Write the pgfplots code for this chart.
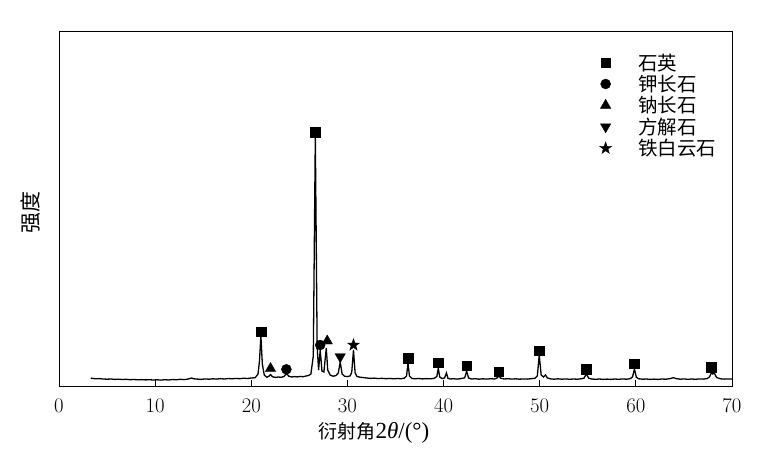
\documentclass[border=0pt]{standalone}
\usepackage{fontspec}
\setmainfont{Liberation Serif}
\newfontfamily\cjk{Noto Sans CJK SC}
\usepackage{pgfplots}
\pgfplotsset{compat=1.18}
\pgfdeclareplotmark{fstar}{%
  \pgfpathmoveto{\pgfpointpolar{90}{1.25\pgfplotmarksize}}%
  \pgfpathlineto{\pgfpointpolar{126}{0.5\pgfplotmarksize}}%
  \pgfpathlineto{\pgfpointpolar{162}{1.25\pgfplotmarksize}}%
  \pgfpathlineto{\pgfpointpolar{198}{0.5\pgfplotmarksize}}%
  \pgfpathlineto{\pgfpointpolar{234}{1.25\pgfplotmarksize}}%
  \pgfpathlineto{\pgfpointpolar{270}{0.5\pgfplotmarksize}}%
  \pgfpathlineto{\pgfpointpolar{306}{1.25\pgfplotmarksize}}%
  \pgfpathlineto{\pgfpointpolar{342}{0.5\pgfplotmarksize}}%
  \pgfpathlineto{\pgfpointpolar{18}{1.25\pgfplotmarksize}}%
  \pgfpathlineto{\pgfpointpolar{54}{0.5\pgfplotmarksize}}%
  \pgfpathclose
  \pgfusepathqfillstroke}
\begin{document}
\begin{tikzpicture}
\path[use as bounding box] (0,0) rectangle (783pt,456pt);
\begin{axis}[
  at={(59pt,70pt)}, anchor=south west,
  width=673pt, height=354pt, scale only axis,
  xmin=0, xmax=70, ymin=0, ymax=354,
  xtick={0,10,...,70}, ytick=\empty,
  xtick pos=bottom, tick align=inside, major tick length=6pt,
  axis line style={line width=1pt},
  tick style={line width=0.8pt, black},
  tick label style={font=\fontsize{22}{26}\selectfont},
  xticklabel style={yshift=-10pt},
  xlabel={{\fontsize{19}{24}\selectfont\cjk 衍射角}2\textit{θ}/(°)},
  xlabel style={at={(axis description cs:0.468,0)}, anchor=center, yshift=-47pt, font=\fontsize{23}{26}\selectfont},
  ylabel={\cjk 强度},
  ylabel style={at={(axis description cs:0,0.49)}, anchor=center, yshift=28pt, font=\fontsize{21}{24}\selectfont},
  legend style={draw=none, fill=none, at={(axis cs:55.9,336)}, anchor=north west,
    font=\fontsize{19.5}{21}\selectfont\cjk, row sep=0.5pt, nodes={inner sep=1.5pt}},
  legend cell align=left,
  legend image code/.code={\path[draw=none, fill=none] (-6pt,0pt) -- (31pt,0pt); \draw plot coordinates {(0pt,0pt)};},
]
\addplot[black, line width=1.3pt, forget plot] coordinates {
(3.3,8) (3.5,7.6) (3.8,7.2) (4.2,7.4) (4.6,7.0) (5.0,6.8) (5.4,7.0) (5.8,6.6)
(6.2,6.8) (6.6,6.5) (7.0,6.7) (7.4,6.3) (7.8,6.5) (8.2,6.2) (8.6,6.4) (9.0,6.1)
(9.4,6.3) (9.8,6.0) (10.2,6.2) (10.6,5.9) (11.0,6.3) (11.4,6.0) (11.8,6.5) (12.2,6.2)
(12.6,6.7) (13.0,6.4) (13.4,6.9) (13.8,8.0) (14.0,7.2) (14.4,6.9) (14.8,6.6) (15.2,7.1)
(15.6,6.8) (16.0,7.2) (16.4,6.9) (16.8,7.4) (17.2,7.0) (17.6,7.5) (18.0,7.2) (18.4,7.6)
(18.8,7.3) (19.2,7.8) (19.6,7.5) (20.0,8.0) (20.4,8.3) (20.7,12) (20.85,25) (21.0,50)
(21.15,22) (21.35,11) (21.6,8.8) (21.8,9.5) (22.0,11.5) (22.2,9.3) (22.5,8.6) (22.8,9.0)
(23.1,8.7) (23.4,9.5) (23.65,12.5) (23.9,9.8) (24.2,9.0) (24.5,9.4) (24.8,9.1) (25.1,9.6)
(25.4,9.3) (25.7,10.0) (25.95,10.5) (26.2,12) (26.45,30) (26.66,250) (26.85,40) (27.0,16)
(27.17,36) (27.35,15) (27.55,14) (27.8,38) (27.95,16) (28.2,11) (28.5,9.8) (28.8,10.4)
(29.05,13) (29.25,24) (29.45,12) (29.7,9.8) (30.0,9.4) (30.3,10.2) (30.45,14) (30.63,36)
(30.8,13) (31.0,9.5) (31.3,8.8) (31.6,8.5) (32.0,8.0) (32.4,7.6) (32.8,7.9) (33.2,7.4)
(33.6,7.7) (34.0,7.3) (34.4,7.6) (34.8,7.2) (35.2,7.5) (35.6,7.3) (35.9,7.8) (36.15,10)
(36.3,23) (36.45,10) (36.7,7.6) (37.0,7.2) (37.4,7.5) (37.8,7.1) (38.2,7.4) (38.6,7.2)
(39.0,7.6) (39.3,9.5) (39.45,18) (39.6,9.0) (39.85,7.4) (40.1,8.0) (40.3,13) (40.45,7.8)
(40.7,7.0) (41.0,7.3) (41.4,6.9) (41.8,7.4) (42.2,8.2) (42.4,15) (42.6,8.0) (42.9,7.0)
(43.3,7.3) (43.7,6.8) (44.1,7.2) (44.5,6.9) (44.9,7.3) (45.3,7.0) (45.55,8.0) (45.75,10)
(45.95,7.8) (46.3,7.0) (46.7,7.3) (47.1,6.9) (47.5,7.2) (47.9,6.8) (48.3,7.1) (48.7,6.9)
(49.1,7.3) (49.5,7.7) (49.75,10) (49.95,31) (50.15,11) (50.4,9) (50.6,11) (50.8,8)
(51.1,7.2) (51.5,6.8) (51.9,7.2) (52.3,6.8) (52.7,7.1) (53.1,6.7) (53.5,7.0) (53.9,6.8)
(54.3,7.2) (54.6,7.8) (54.85,12) (55.1,7.8) (55.4,7.0) (55.8,6.7) (56.2,7.0) (56.6,6.6)
(57.0,6.9) (57.4,6.6) (57.8,7.0) (58.2,6.7) (58.6,7.1) (59.0,6.8) (59.4,7.3) (59.65,9)
(59.85,17) (60.05,8.8) (60.3,7.2) (60.7,6.8) (61.1,7.0) (61.5,6.6) (61.9,6.9) (62.3,6.6)
(62.7,7.0) (63.1,6.8) (63.5,7.3) (63.9,8.3) (64.2,7.4) (64.6,6.8) (65.0,7.1) (65.4,6.7)
(65.8,7.0) (66.2,6.7) (66.6,7.1) (67.0,6.9) (67.4,7.4) (67.65,9) (67.85,13) (68.0,12)
(68.15,13) (68.4,8.5) (68.8,7.2) (69.2,6.9) (69.6,7.1) (70.0,7.0)
};
\addplot[only marks, mark=square*, mark size=4.8pt, black] coordinates {
(21.0,54.5) (26.66,254) (36.3,28) (39.45,23.5) (42.4,20.5) (45.75,14.5) (49.95,35.5) (54.85,17) (59.85,22.5) (67.85,19)
};
\addlegendentry{石英}
\addplot[only marks, mark=*, mark size=5pt, black] coordinates {
(23.65,16.7) (27.17,41)
};
\addlegendentry{钾长石}
\addplot[only marks, mark=triangle*, mark size=6pt, black] coordinates {
(22.0,17.5) (27.9,45)
};
\addlegendentry{钠长石}
\addplot[only marks, mark=triangle*, mark size=6pt, mark options={rotate=180}, black] coordinates {
(29.25,29.3)
};
\addlegendentry{方解石}
\addplot[only marks, mark=fstar, mark size=5pt, black] coordinates {
(30.63,41)
};
\addlegendentry{铁白云石}
\end{axis}
\end{tikzpicture}
\end{document}
